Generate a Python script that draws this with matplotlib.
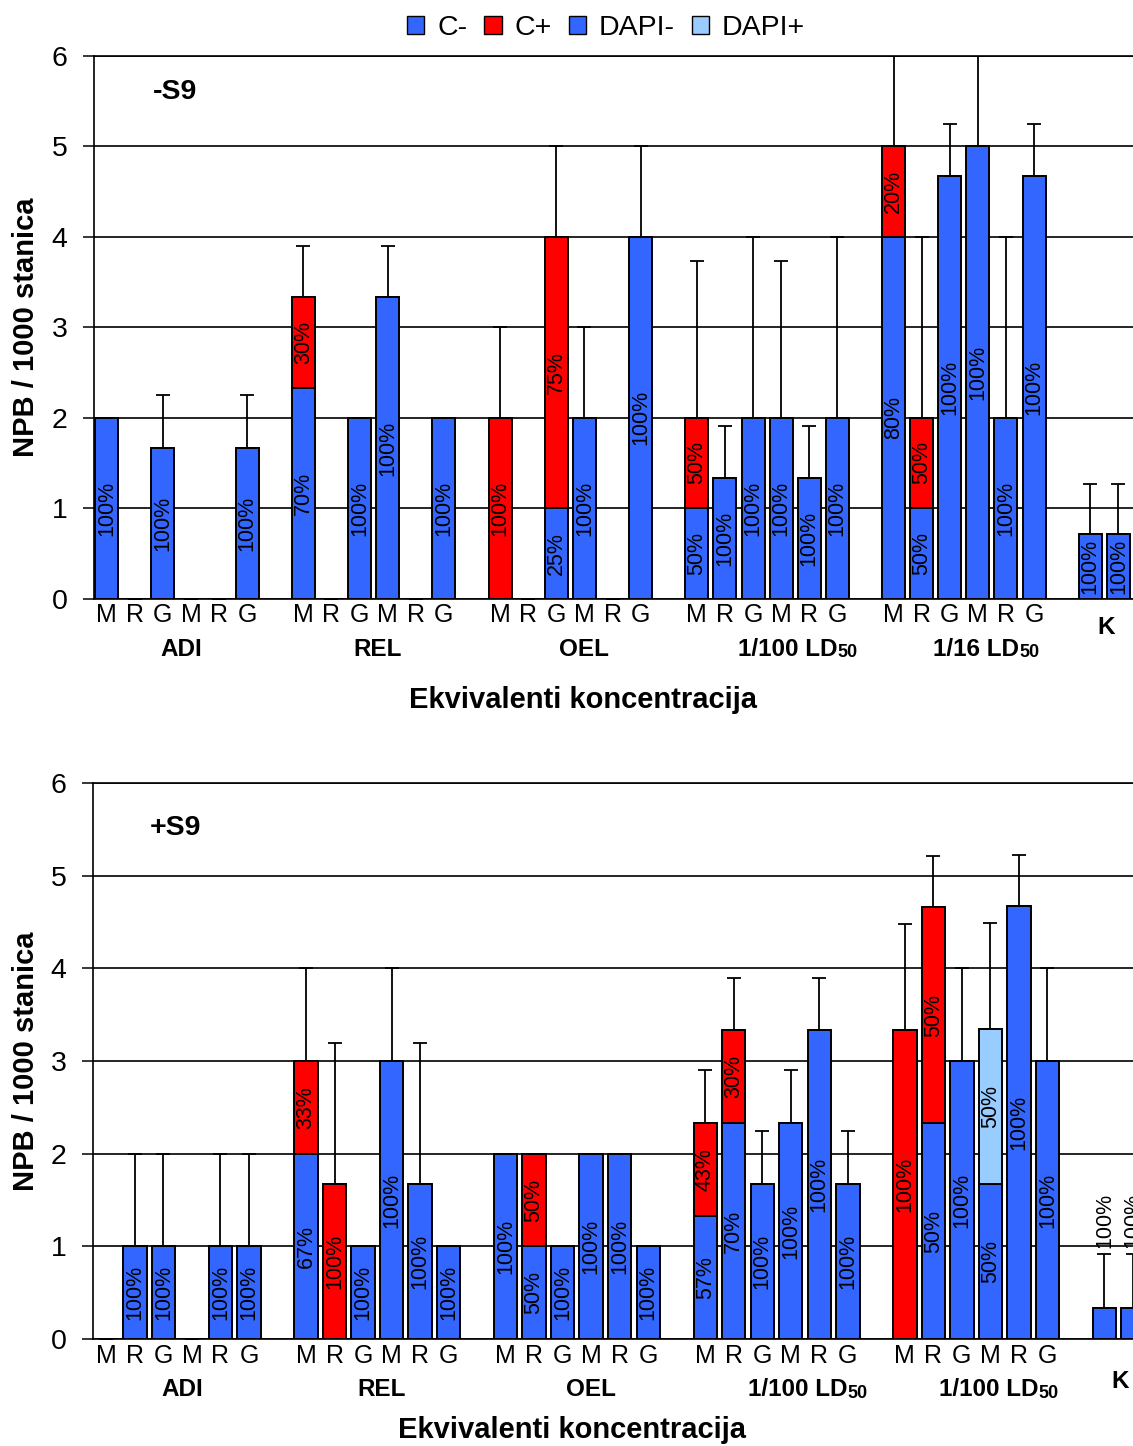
import matplotlib
matplotlib.use("Agg")
import matplotlib.pyplot as plt
import matplotlib.transforms as mtransforms
from matplotlib.patches import Patch
import numpy as np

plt.rcParams["font.family"] = ["Liberation Sans", "DejaVu Sans"]

# ── data ──────────────────────────────────────────────────────────
GROUPS_TOP = ["ADI", "REL", "OEL", "1/100 LD", "1/16 LD", "K"]
GROUPS_BOT = ["ADI", "REL", "OEL", "1/100 LD", "1/100 LD", "K"]
SUBS = ["M", "R", "G", "M", "R", "G"]

# -S9 panel (32 bars: 5 groups x 6 + K x 2)
TOP_BLUE = [2, 0, 1.67, 0, 0, 1.67,
            2.33, 0, 2, 3.33, 0, 2,
            0, 0, 1, 2, 0, 4,
            1, 1.33, 2, 2, 1.33, 2,
            4, 1, 4.67, 5, 2, 4.67,
            0.72, 0.72]
TOP_RED = [0, 0, 0, 0, 0, 0,
           1, 0, 0, 0, 0, 0,
           2, 0, 3, 0, 0, 0,
           1, 0, 0, 0, 0, 0,
           1, 1, 0, 0, 0, 0,
           0, 0]
TOP_LIGHT = [0] * 32
TOP_ERR = [0, 0, 0.58, 0, 0, 0.58,
           0.57, 0, 0, 0.57, 0, 0,
           1.0, 0, 1.0, 1.0, 0, 1.0,
           1.73, 0.58, 2.0, 1.73, 0.58, 2.0,
           1.0, 2.0, 0.57, 1.0, 2.0, 0.57,
           0.55, 0.55]
TOP_BLUE_LBL = ["100%", "", "100%", "", "", "100%",
                "70%", "", "100%", "100%", "", "100%",
                "", "", "25%", "100%", "", "100%",
                "50%", "100%", "100%", "100%", "100%", "100%",
                "80%", "50%", "100%", "100%", "100%", "100%",
                "100%", "100%"]
TOP_RED_LBL = ["", "", "", "", "", "",
               "30%", "", "", "", "", "",
               "100%", "", "75%", "", "", "",
               "50%", "", "", "", "", "",
               "20%", "50%", "", "", "", "",
               "", ""]
TOP_LIGHT_LBL = [""] * 32

# +S9 panel
BOT_BLUE = [0, 1, 1, 0, 1, 1,
            2, 0, 1, 3, 1.67, 1,
            2, 1, 1, 2, 2, 1,
            1.33, 2.33, 1.67, 2.33, 3.33, 1.67,
            0, 2.33, 3, 1.67, 4.67, 3,
            0.33, 0.33]
BOT_RED = [0, 0, 0, 0, 0, 0,
           1, 1.67, 0, 0, 0, 0,
           0, 1, 0, 0, 0, 0,
           1, 1, 0, 0, 0, 0,
           3.33, 2.33, 0, 0, 0, 0,
           0, 0]
BOT_LIGHT = [0, 0, 0, 0, 0, 0,
             0, 0, 0, 0, 0, 0,
             0, 0, 0, 0, 0, 0,
             0, 0, 0, 0, 0, 0,
             0, 0, 0, 1.67, 0, 0,
             0, 0]
BOT_ERR = [0, 1, 1, 0, 1, 1,
           1, 1.52, 0, 1, 1.52, 0,
           0, 0, 0, 0, 0, 0,
           0.57, 0.57, 0.57, 0.57, 0.57, 0.57,
           1.15, 0.55, 1.0, 1.15, 0.55, 1.0,
           0.59, 0.59]
BOT_BLUE_LBL = ["", "100%", "100%", "", "100%", "100%",
                "67%", "", "100%", "100%", "100%", "100%",
                "100%", "50%", "100%", "100%", "100%", "100%",
                "57%", "70%", "100%", "100%", "100%", "100%",
                "", "50%", "100%", "50%", "100%", "100%",
                "100%", "100%"]
BOT_RED_LBL = ["", "", "", "", "", "",
               "33%", "100%", "", "", "", "",
               "", "50%", "", "", "", "",
               "43%", "30%", "", "", "", "",
               "100%", "50%", "", "", "", "",
               "", ""]
BOT_LIGHT_LBL = ["", "", "", "", "", "",
                 "", "", "", "", "", "",
                 "", "", "", "", "", "",
                 "", "", "", "", "", "",
                 "", "", "", "50%", "", "",
                 "", ""]

LEGEND = ["C-", "C+", "DAPI-", "DAPI+"]

# ── style ─────────────────────────────────────────────────────────
BLUE = "#3366FF"
RED = "#FF0000"
LIGHT = "#99CCFF"
W, H = 1133, 1446

# bar slots: 7 per group (6 bars + gap), K gets 2
POS = np.array([7 * g + i for g in range(5) for i in range(6)] + [35, 36])
# small label nudges (slots) as in the original layout
GROUP_SHIFT = [0.15, 0.15, 0.5, 1.2, 0.9, 0.05]


def fy(px):
    return 1 - px / H


def panel(ax, blue, red, light, err, lb_blue, lb_red, lb_light, xlim,
          groups, tag, y_tick, y_group, y_k, y_xlabel, x_xlabel):
    blue = np.array(blue, float)
    red = np.array(red, float)
    light = np.array(light, float)
    err = np.array(err, float)
    bw = 0.82
    kw = dict(width=bw, edgecolor="black", linewidth=1.4, zorder=2)
    ax.bar(POS, blue, color=BLUE, **kw)
    ax.bar(POS, red, bottom=blue, color=RED, **kw)
    ax.bar(POS, light, bottom=blue + red, color=LIGHT, **kw)
    top = blue + red + light
    ax.errorbar(POS, top, yerr=[np.zeros_like(err), err], fmt="none",
                ecolor="black", elinewidth=1.3, capsize=4.8, capthick=1.3,
                zorder=3)

    for vals, bots, lbls in [(blue, np.zeros_like(blue), lb_blue),
                             (red, blue, lb_red),
                             (light, blue + red, lb_light)]:
        for i, (v, b, s) in enumerate(zip(vals, bots, lbls)):
            if not s:
                continue
            if v >= 0.6:
                ax.text(POS[i], b + v / 2, s, rotation=90, ha="center",
                        va="center", fontsize=15.5, zorder=4)
            else:
                ax.annotate(s, (POS[i], top[i] + err[i]), xytext=(0, 4),
                            textcoords="offset points", rotation=90,
                            ha="center", va="bottom", fontsize=15.5,
                            zorder=4, annotation_clip=False)

    ax.set_xlim(*xlim)
    ax.set_ylim(0, 6)
    ax.set_yticks(range(7))
    ax.tick_params(axis="y", labelsize=20.5, length=8, width=1.1,
                   direction="out", pad=11)
    ax.set_xticks([])
    ax.yaxis.grid(True, color="black", linewidth=1.2)
    ax.set_axisbelow(True)
    ax.spines["right"].set_visible(False)
    for s in ["left", "bottom", "top"]:
        ax.spines[s].set_linewidth(1.2)

    tr = mtransforms.blended_transform_factory(ax.transData, fig.transFigure)
    for p, s in zip(POS, SUBS * 5):
        ax.text(p, fy(y_tick), s, transform=tr, ha="center", va="center",
                fontsize=18)
    for g, name in enumerate(groups):
        if name == "K":
            ax.text(35.5 + GROUP_SHIFT[g], fy(y_k), name, transform=tr,
                    ha="center", va="center", fontsize=17.5,
                    fontweight="bold")
            continue
        cx = 7 * g + 2.5 + GROUP_SHIFT[g]
        if name.endswith("LD"):
            t = ax.text(cx - 0.45, fy(y_group), name, transform=tr,
                        ha="center", va="center", fontsize=17.5,
                        fontweight="bold")
            ax.annotate("50", xy=(1, 0), xycoords=t, ha="left", va="bottom",
                        fontsize=13, fontweight="bold")
        else:
            ax.text(cx, fy(y_group), name, transform=tr, ha="center",
                    va="center", fontsize=17.5, fontweight="bold")

    fig.text(x_xlabel / W, fy(y_xlabel), "Ekvivalenti koncentracija",
             ha="center", va="center", fontsize=21, fontweight="bold")
    bb = ax.get_position()
    fig.text(26 / W, (bb.y0 + bb.y1) / 2, "NPB / 1000 stanica",
             rotation=90, ha="center", va="center", fontsize=21,
             fontweight="bold")
    fig.text(175 / W, fy(tag[1]), tag[0], ha="center", va="center",
             fontsize=20.5, fontweight="bold")


fig = plt.figure(figsize=(W / 100, H / 100), dpi=100)
ax1 = fig.add_axes([94 / W, fy(598.7), 1 - 94 / W, 543 / H])
ax2 = fig.add_axes([93 / W, fy(1339), 1 - 93 / W, 556 / H])

panel(ax1, TOP_BLUE, TOP_RED, TOP_LIGHT, TOP_ERR,
      TOP_BLUE_LBL, TOP_RED_LBL, TOP_LIGHT_LBL, (-0.45, 36.52),
      GROUPS_TOP, ("-S9", 92), 615, 650, 628, 700, 583)
panel(ax2, BOT_BLUE, BOT_RED, BOT_LIGHT, BOT_ERR,
      BOT_BLUE_LBL, BOT_RED_LBL, BOT_LIGHT_LBL, (-0.47, 36.0),
      GROUPS_BOT, ("+S9", 828), 1356, 1390, 1382, 1430, 572)

handles = [Patch(facecolor=c, edgecolor="black", linewidth=1.0)
           for c in [BLUE, RED, BLUE, LIGHT]]
fig.legend(handles, LEGEND, loc="center", bbox_to_anchor=(606 / W, fy(28)),
           ncol=4, frameon=False, fontsize=20.5, handlelength=0.6,
           handleheight=0.6, handletextpad=0.45, columnspacing=0.6,
           borderpad=0, borderaxespad=0)

fig.savefig("out.png", dpi=100)
